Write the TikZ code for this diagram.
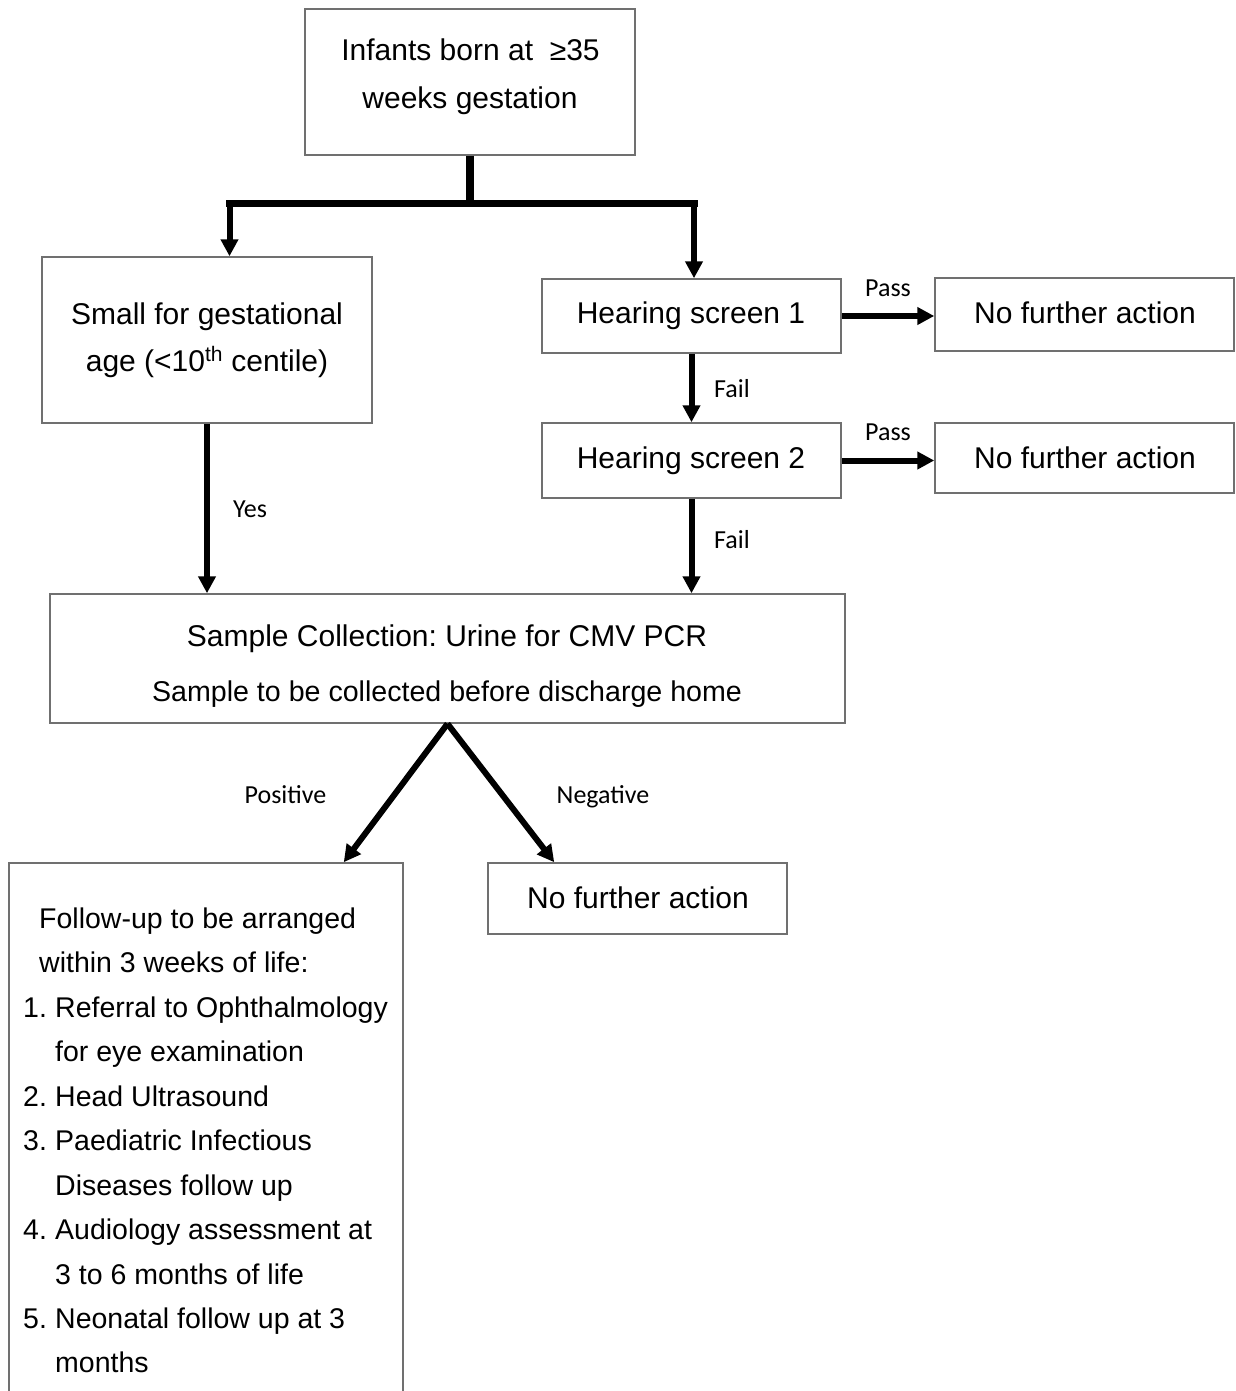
\documentclass[tikz,border=0pt]{standalone}
\usepackage{fontspec}
\setmainfont{Liberation Sans}
\newfontfamily\labfont{Carlito}
\usetikzlibrary{arrows.meta,calc}
\definecolor{boxgray}{HTML}{707070}
\frenchspacing
\begin{document}
\begin{tikzpicture}[x=1pt,y=-1pt,
  box/.style={draw=boxgray, line width=1.5pt, inner sep=0pt},
  txt/.style={font=\fontsize{30}{36}\selectfont, anchor=base, inner sep=0pt},
  lbl/.style={font=\labfont\fontsize{26}{30}\selectfont, anchor=base, inner sep=0pt},
  fut/.style={font=\fontsize{28.5}{34}\selectfont, anchor=base west, inner sep=0pt},
  arr/.style={line width=6pt, -{Triangle[length=17pt,width=17pt]}},
  barline/.style={line width=7.5pt, line cap=rect}]
\useasboundingbox (0,0) rectangle (1235,1391);
\clip (0,0) rectangle (1235,1391);

% boxes
\node[box, minimum width=330pt, minimum height=146pt] (top) at (470,82) {};
\node[box, minimum width=330pt, minimum height=166pt] (sga) at (207,340) {};
\node[box, minimum width=299pt, minimum height=74pt] (hs1) at (691.5,316) {};
\node[box, minimum width=299pt, minimum height=73pt] (nfa1) at (1084.5,314.5) {};
\node[box, minimum width=299pt, minimum height=75pt] (hs2) at (691.5,460.5) {};
\node[box, minimum width=299pt, minimum height=70pt] (nfa2) at (1084.5,458) {};
\node[box, minimum width=795pt, minimum height=129pt] (sample) at (447.5,658.5) {};
\node[box, minimum width=394pt, minimum height=540pt] (fu) at (206,1133) {};
\node[box, minimum width=299pt, minimum height=71pt] (nfa3) at (637.5,898.5) {};

% box texts
\node[txt] (topa) at (470.5,61) {Infants born at\ \ ≥35};
\node[txt] (topb) at (470,109) {weeks gestation};
\node[txt] (sgaa) at (207,324) {Small for gestational};
\node[txt] (sgab) at (207,371) {age (<10\textsuperscript{th} centile)};
\node[txt] (hs1t) at (691,323) {Hearing screen 1};
\node[txt] (nfa1t) at (1085,323) {No further action};
\node[txt] (hs2t) at (691,468) {Hearing screen 2};
\node[txt] (nfa2t) at (1085,468) {No further action};
\node[txt] (sama) at (447,646) {Sample Collection: Urine for CMV PCR};
\node[txt, font=\fontsize{28.6}{34}\selectfont] (samb) at (447,701) {Sample to be collected before discharge home};
\node[txt] (nfa3t) at (638,908) {No further action};

% follow-up list
\node[fut] (fu1) at (39,928) {Follow-up to be arranged};
\node[fut] (fu2) at (39,972) {within 3 weeks of life:};
\node[fut] (fu3) at (23,1017) {\makebox[32pt][l]{1.}Referral to Ophthalmology};
\node[fut] (fu4) at (55,1061) {for eye examination};
\node[fut] (fu5) at (23,1106) {\makebox[32pt][l]{2.}Head Ultrasound};
\node[fut] (fu6) at (23,1150) {\makebox[32pt][l]{3.}Paediatric Infectious};
\node[fut] (fu7) at (55,1195) {Diseases follow up};
\node[fut] (fu8) at (23,1239) {\makebox[32pt][l]{4.}Audiology assessment at};
\node[fut] (fu9) at (55,1284) {3 to 6 months of life};
\node[fut] (fu10) at (23,1328) {\makebox[32pt][l]{5.}Neonatal follow up at 3};
\node[fut] (fu11) at (55,1372) {months};

% top split
\coordinate (bl) at (229.5,203.5);
\coordinate (br) at (694,203.5);
\draw[line width=8pt] (top.south) -- (top.south |- bl);
\draw[barline] (bl) -- (br);
\draw[arr] (bl) -- (bl |- sga.north);
\draw[arr] (br) -- (br |- hs1.north);

% hearing screens
\draw[arr] (hs1.east) -- (hs1.east -| nfa1.west);
\draw[arr] (hs2.east) -- (hs2.east -| nfa2.west);
\draw[arr] (hs1.south) -- (hs2.north);
\draw[arr] (hs2.south) -- (hs2.south |- sample.north);
\draw[arr] (sga.south) -- (sga.south |- sample.north);

% results
\draw[arr] (sample.south) -- ($(fu.north east)+(-60,0)$);
\draw[arr] (sample.south) -- ($(nfa3.north west)+(67,0)$);

% labels
\node[lbl] (pass1) at (888,296) {Pass};
\node[lbl] (pass2) at (888,440) {Pass};
\node[lbl] (fail1) at (732,397) {Fail};
\node[lbl] (fail2) at (732,548) {Fail};
\node[lbl] (yes) at (250,517) {Yes};
\node[lbl] (pos) at (285.5,803) {Positive};
\node[lbl] (neg) at (603,803) {Negative};
\end{tikzpicture}
\end{document}
